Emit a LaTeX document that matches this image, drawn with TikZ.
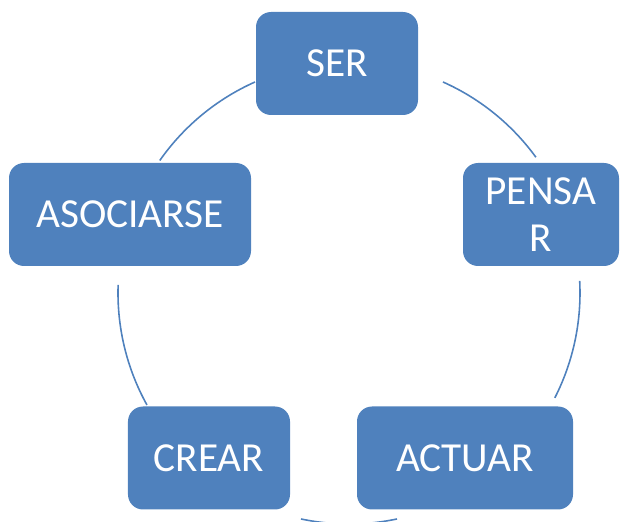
\documentclass[tikz,border=0pt]{standalone}
\usepackage{fontspec}
\setmainfont{Carlito}
\definecolor{boxblue}{HTML}{4F81BD}

\tikzset{
	stage/.style={fill=boxblue, rounded corners=0.3cm, minimum height=2.06cm,
		text=white, align=center, inner sep=0pt,
		font=\fontsize{23.5}{27}\selectfont},
	ring/.style={draw=boxblue, line width=0.9pt}
}

\begin{document}
\begin{tikzpicture}
	\useasboundingbox (0,0) rectangle (12.4,10.44);
	\clip (0,0) rectangle (12.4,10.44);
	\coordinate (c) at (6.98,4.58);
	\draw[ring] (c) ++(66:4.62) arc (66:36:4.62);
	\draw[ring] (c) ++(3:4.62) arc (3:-27:4.62);
	\draw[ring] (c) ++(-78:4.62) arc (-78:-102:4.62);
	\draw[ring] (c) ++(-151:4.62) arc (-151:-182:4.62);
	\draw[ring] (c) ++(145:4.62) arc (145:114:4.62);
	\node[stage, minimum width=3.24cm] (ser) at (6.74,9.17) {SER};
	\node[stage, minimum width=3.12cm] (pensar) at (10.82,6.15) {PENSA\\R};
	\node[stage, minimum width=4.32cm] (actuar) at (9.30,1.28) {ACTUAR};
	\node[stage, minimum width=3.24cm] (crear) at (4.18,1.28) {CREAR};
	\node[stage, minimum width=4.84cm] (asociarse) at (2.60,6.15) {ASOCIARSE};
\end{tikzpicture}
\end{document}
